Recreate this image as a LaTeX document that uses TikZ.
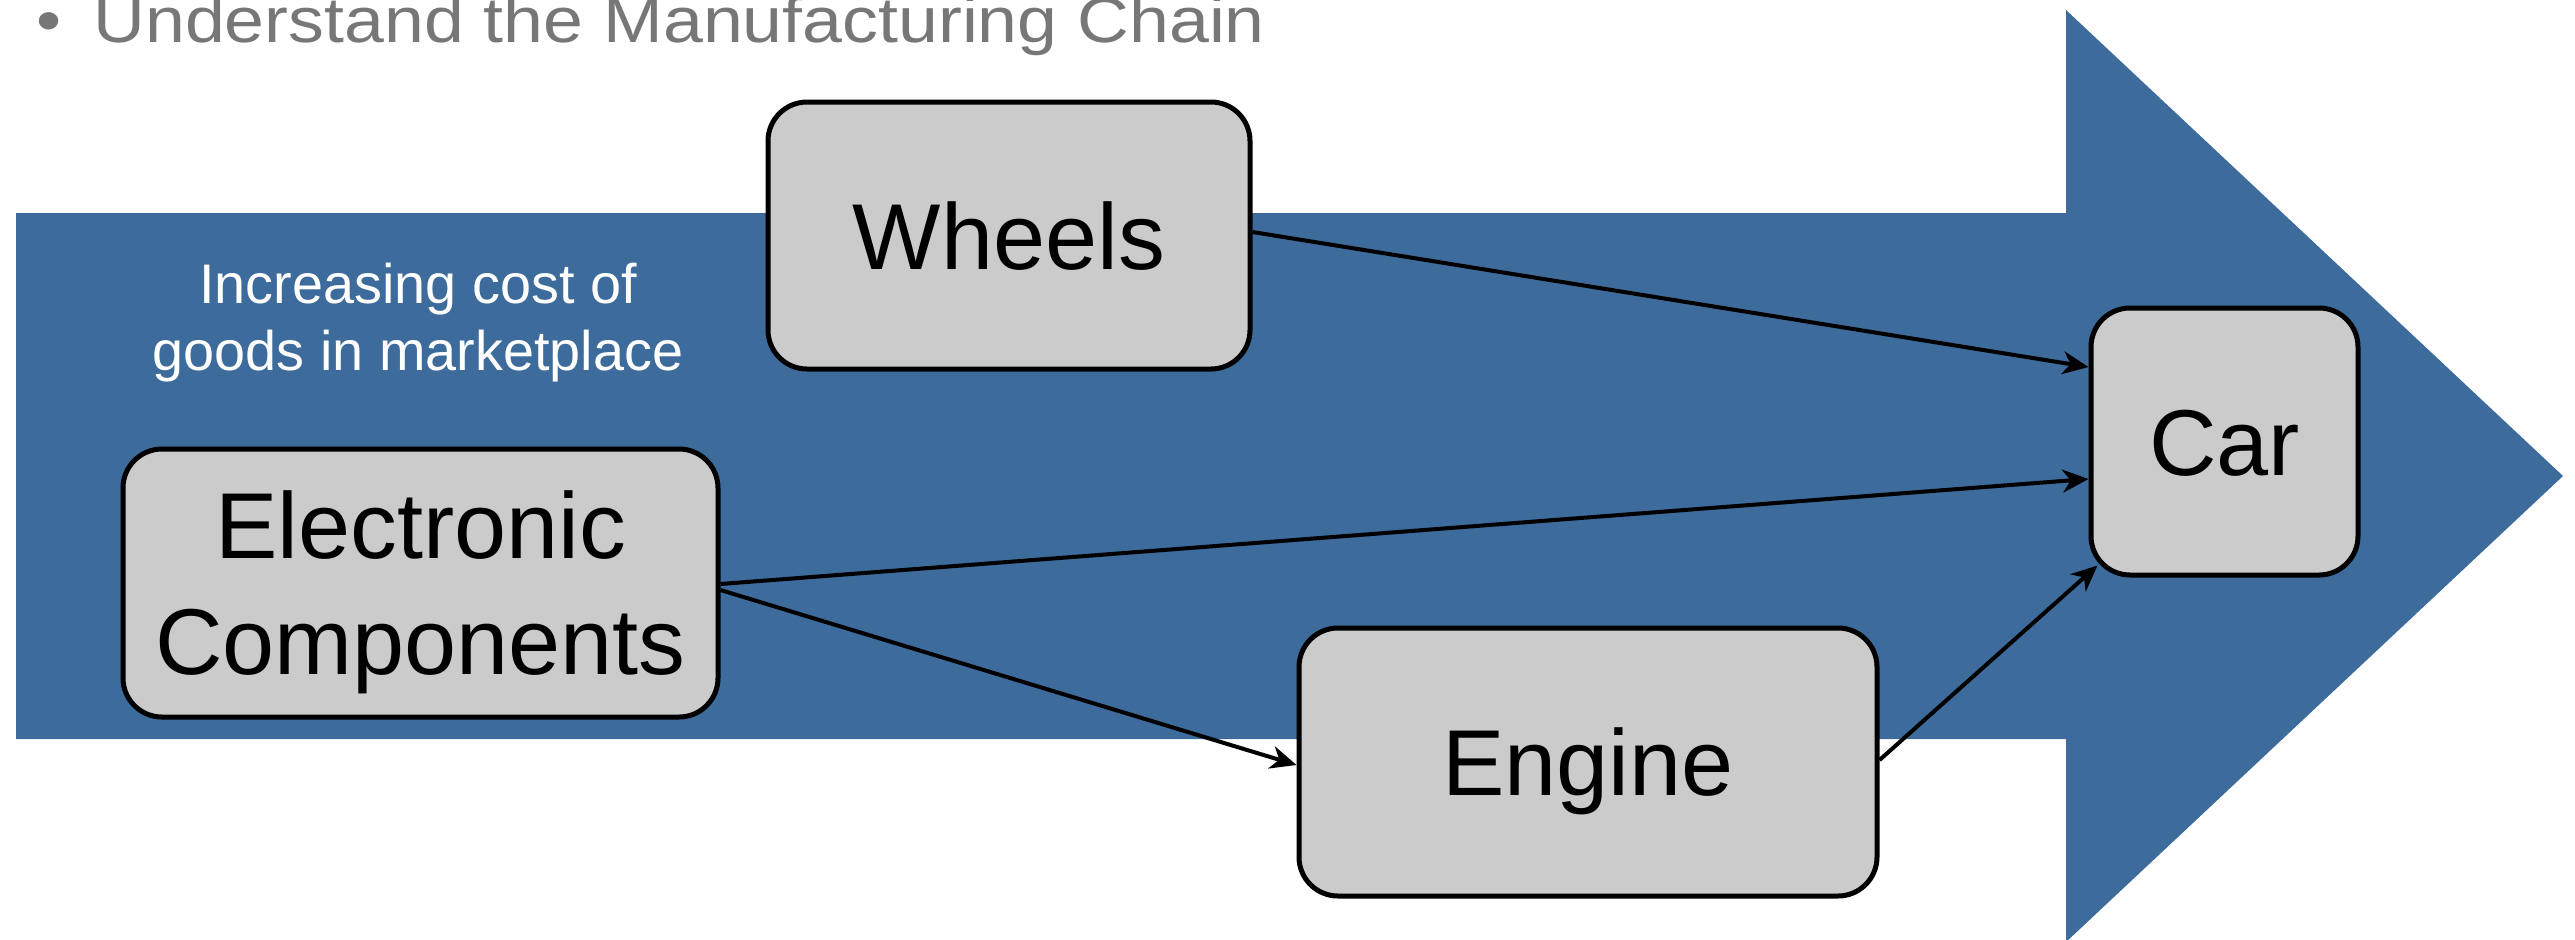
\documentclass[tikz,border=0pt]{standalone}
\usepackage{fontspec}
\setmainfont{Liberation Sans}
\newfontfamily\headfont[FakeStretch=1.12]{Liberation Sans}
\usetikzlibrary{arrows.meta}

\definecolor{flowblue}{HTML}{3C6B9C}
\definecolor{boxgray}{HTML}{CBCBCB}
\definecolor{headgray}{HTML}{777777}

\tikzset{
  partbox/.style={draw=black, fill=boxgray, line width=2.5pt, rounded corners=19.5pt,
    inner sep=0pt, font=\fontsize{46.8}{58}\selectfont, text height=33.5pt, text depth=0pt},
  flow/.style={draw=black, line width=2pt,
    -{Stealth[length=13pt, width=11.5pt, inset=4pt]}}
}

\begin{document}
\begin{tikzpicture}[x=0.5pt, y=-0.5pt]
  \useasboundingbox (0,0) rectangle (2575,939);

  % broad arrow showing the direction of rising cost
  \fill[flowblue] (16,213) -- (2066,213) -- (2066,10) -- (2563,476)
    -- (2066,942) -- (2066,739) -- (16,739) -- cycle;

  % heading line
  \node[anchor=base west, text=headgray, inner sep=0pt,
        font=\headfont\fontsize{32}{38}\selectfont]
    (head) at (36,42) {\textbullet\hspace{16pt}Understand the Manufacturing Chain};

  % caption inside the arrow
  \node[align=center, text=white, inner sep=0pt,
        font=\fontsize{27.9}{33.5}\selectfont, text height=53.5pt, text depth=0pt]
    (cost) at (418,316.5) {Increasing cost of\\goods in marketplace};

  % parts of the chain
  \node[partbox, minimum width=241pt, minimum height=133.5pt] (wheels) at (1009,235.5) {Wheels};
  \node[partbox, minimum width=297.5pt, minimum height=134pt, align=center,
        text height=91.5pt] (elec) at (420.5,583) {Electronic\\Components};
  \node[partbox, minimum width=289pt, minimum height=134pt] (engine) at (1588,762) {Engine};
  \node[partbox, minimum width=133.5pt, minimum height=133.5pt] (car) at (2224.5,441.5) {Car};

  % supply links
  \draw[flow] ([yshift=1.75pt]wheels.east) -- ([yshift=37.25pt]car.west);
  \draw[flow] ([yshift=-0.5pt]elec.east) -- ([yshift=-18.75pt]car.west);
  \draw[flow] ([yshift=-3.5pt]elec.east) -- ([yshift=-1.5pt]engine.west);
  \draw[flow] ([yshift=1pt]engine.east) -- ([xshift=4.5pt, yshift=6pt]car.south west);
\end{tikzpicture}
\end{document}
